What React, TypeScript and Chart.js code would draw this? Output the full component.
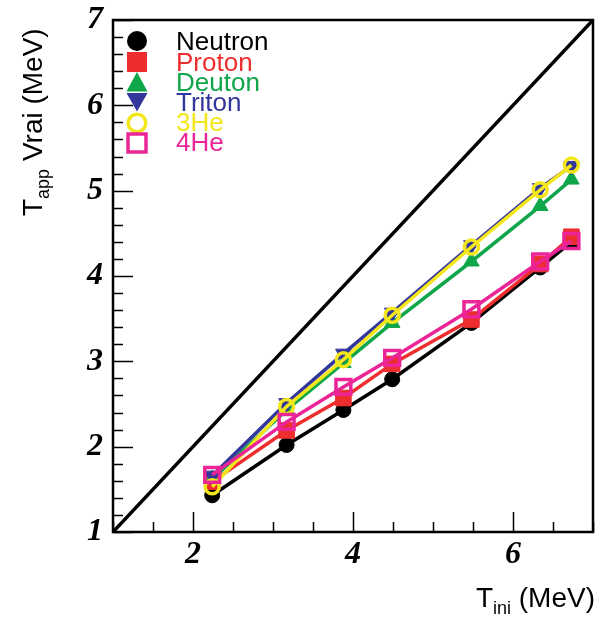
import { useEffect, useRef } from 'react';
import { Chart, registerables } from 'chart.js';

Chart.register(...registerables);

// ---- data ----
const energies = [2.24, 3.17, 3.88, 4.49, 5.48, 6.34, 6.73];
const neutron = [1.43, 2.02, 2.43, 2.79, 3.45, 4.1, 4.4];
const proton = [1.59, 2.19, 2.57, 2.97, 3.49, 4.14, 4.46];
const deuton = [1.62, 2.43, 2.98, 3.45, 4.17, 4.82, 5.13];
const triton = [1.66, 2.51, 3.09, 3.57, 4.36, 5.03, 5.29];
const he3 = [1.53, 2.47, 3.02, 3.54, 4.34, 5.01, 5.3];
const he4 = [1.67, 2.29, 2.7, 3.04, 3.61, 4.17, 4.41];
const diagonal = [1, 7];
const seriesLabels = ['Neutron', 'Proton', 'Deuton', 'Triton', '3He', '4He'];
const xTickValues = [2, 4, 6];
const yTickValues = [1, 2, 3, 4, 5, 6, 7];

// ---- styles ----
const seriesValues = [neutron, proton, deuton, triton, he3, he4];
const colors = ['#000000', '#EE2D2F', '#10A64A', '#33369A', '#F3E61B', '#EB2597'];
const markerStyles = [
  { style: 'circle', radius: 7.5, filled: true, rotation: 0 },
  { style: 'rect', radius: 11, filled: true, rotation: 0 },
  { style: 'triangle', radius: 9, filled: true, rotation: 0 },
  { style: 'triangle', radius: 9, filled: true, rotation: 180 },
  { style: 'circle', radius: 7, filled: false, rotation: 0 },
  { style: 'rect', radius: 10.5, filled: false, rotation: 0 },
];

const sans = "'Liberation Sans', Arial, Helvetica, sans-serif";
const serif = "'Liberation Serif', 'Times New Roman', serif";

const decorPlugin = {
  id: 'decor',
  afterDraw(chart: any) {
    const ctx = chart.ctx as CanvasRenderingContext2D;
    const xs = chart.scales.x;
    const ys = chart.scales.y;
    const left = xs.getPixelForValue(xs.min);
    const right = xs.getPixelForValue(xs.max);
    const top = ys.getPixelForValue(ys.max);
    const bottom = ys.getPixelForValue(ys.min);
    ctx.save();
    ctx.setLineDash([]);
    ctx.globalAlpha = 1;
    ctx.strokeStyle = '#000';
    // ticks
    ctx.lineWidth = 1.5;
    ctx.beginPath();
    for (let i = 0; i <= 30; i++) {
      const v = ys.min + i * 0.2;
      const p = Math.round(ys.getPixelForValue(v)) + 0.5;
      const major = Math.abs(v - Math.round(v)) < 1e-6;
      const len = major ? 20 : 10;
      ctx.moveTo(left, p);
      ctx.lineTo(left + len, p);
    }
    for (let i = 0; i <= 12; i++) {
      const v = xs.min + i * 0.5;
      const p = Math.round(xs.getPixelForValue(v)) + 0.5;
      const major = xTickValues.some((t) => Math.abs(t - v) < 1e-6);
      const len = major ? 20 : 10;
      ctx.moveTo(p, bottom);
      ctx.lineTo(p, bottom - len);
    }
    ctx.stroke();
    // frame
    ctx.lineWidth = 2.5;
    ctx.beginPath();
    ctx.moveTo(left, top);
    ctx.lineTo(right, top);
    ctx.lineTo(right, bottom);
    ctx.lineTo(left, bottom);
    ctx.closePath();
    ctx.stroke();

    // axis titles
    ctx.fillStyle = '#000';
    ctx.textBaseline = 'alphabetic';
    ctx.textAlign = 'left';
    const big = `28px ${sans}`;
    const small = `18px ${sans}`;
    ctx.font = big;
    const wT = ctx.measureText('T').width;
    const wRest = ctx.measureText(' (MeV)').width;
    ctx.font = small;
    const wIni = ctx.measureText('ini').width;
    const x0 = 595 - (wT + wIni + wRest);
    const base = 607;
    ctx.font = big;
    ctx.fillText('T', x0, base);
    ctx.font = small;
    ctx.fillText('ini', x0 + wT, base + 7);
    ctx.font = big;
    ctx.fillText(' (MeV)', x0 + wT + wIni, base);
    // y title
    ctx.save();
    ctx.translate(42, 216);
    ctx.rotate(-Math.PI / 2);
    ctx.font = big;
    ctx.fillText('T', 0, 0);
    ctx.font = small;
    const wApp = ctx.measureText('app').width;
    ctx.fillText('app', wT, 7);
    ctx.font = big;
    ctx.fillText(' Vrai (MeV)', wT + wApp, 0);
    ctx.restore();

    // legend
    const mx = 137;
    const rowY = [41, 62, 82, 102, 123, 143];
    const baseY = [50, 71, 91, 111, 131, 151];
    for (let i = 0; i < seriesLabels.length; i++) {
      const c = colors[i];
      const y = rowY[i];
      ctx.fillStyle = c;
      ctx.strokeStyle = c;
      ctx.beginPath();
      if (i === 0) {
        ctx.arc(mx, y, 10, 0, Math.PI * 2);
        ctx.fill();
      } else if (i === 1) {
        ctx.fillRect(mx - 10, y - 10, 20, 20);
      } else if (i === 2) {
        ctx.moveTo(mx, y - 10);
        ctx.lineTo(mx + 10.5, y + 9.5);
        ctx.lineTo(mx - 10.5, y + 9.5);
        ctx.closePath();
        ctx.fill();
      } else if (i === 3) {
        ctx.moveTo(mx - 10.5, y - 9);
        ctx.lineTo(mx + 10.5, y - 9);
        ctx.lineTo(mx, y + 9.5);
        ctx.closePath();
        ctx.fill();
      } else if (i === 4) {
        ctx.lineWidth = 3.5;
        ctx.arc(mx, y, 8.8, 0, Math.PI * 2);
        ctx.stroke();
      } else {
        ctx.lineWidth = 3.5;
        ctx.strokeRect(mx - 9, y - 9, 18, 18);
      }
      ctx.font = `26px ${sans}`;
      ctx.fillText(seriesLabels[i], 176, baseY[i]);
    }
    ctx.restore();
  },
};

const zeroPad = (s: any) => {
  s.paddingTop = 0;
  s.paddingBottom = 0;
  s.paddingLeft = 0;
  s.paddingRight = 0;
};

export default function App() {
  const ref = useRef<HTMLCanvasElement | null>(null);
  useEffect(() => {
    if (!ref.current) return;
    const datasets: any[] = seriesValues.map((vals, i) => {
      const m = markerStyles[i];
      return {
        label: seriesLabels[i],
        data: energies.map((x, k) => ({ x, y: vals[k] })),
        showLine: true,
        borderColor: colors[i],
        backgroundColor: colors[i],
        borderWidth: 3.5,
        pointStyle: m.style,
        pointRadius: m.radius,
        pointRotation: m.rotation,
        pointBackgroundColor: m.filled ? colors[i] : 'rgba(0,0,0,0)',
        pointBorderColor: colors[i],
        pointBorderWidth: m.filled ? 1 : 3.5,
        order: seriesLabels.length - i,
      };
    });
    datasets.push({
      label: 'diag',
      data: diagonal.map((v) => ({ x: v, y: v })),
      showLine: true,
      borderColor: '#000',
      borderWidth: 3.5,
      pointRadius: 0,
      order: 20,
    });
    const tickFont = { family: serif, size: 32, style: 'italic', weight: 'bold' };
    const chart = new Chart(ref.current, {
      type: 'scatter',
      data: { datasets },
      options: {
        animation: false,
        responsive: false,
        maintainAspectRatio: false,
        layout: { autoPadding: false, padding: { left: 0, right: 3, top: 20, bottom: 0 } },
        plugins: { legend: { display: false }, tooltip: { enabled: false } },
        scales: {
          x: {
            type: 'linear',
            min: 1,
            max: 7,
            grid: { display: false, drawTicks: false },
            border: { display: false },
            afterBuildTicks: (s: any) => {
              s.ticks = xTickValues.map((v) => ({ value: v }));
            },
            afterFit: (s: any) => {
              s.height = 87;
              zeroPad(s);
            },
            ticks: { padding: 4, color: '#000', font: tickFont },
          },
          y: {
            type: 'linear',
            min: 1,
            max: 7,
            grid: { display: false, drawTicks: false },
            border: { display: false },
            afterBuildTicks: (s: any) => {
              s.ticks = yTickValues.map((v) => ({ value: v }));
            },
            afterFit: (s: any) => {
              s.width = 113;
              zeroPad(s);
            },
            ticks: { padding: 10, color: '#000', font: tickFont },
          },
        },
      } as any,
      plugins: [decorPlugin],
    });
    return () => chart.destroy();
  }, []);
  return (
    <div style={{ position: 'absolute', left: 0, top: 0, width: 596, height: 619, background: '#fff' }}>
      <canvas ref={ref} width={596} height={619} style={{ display: 'block', width: 596, height: 619 }} />
    </div>
  );
}
